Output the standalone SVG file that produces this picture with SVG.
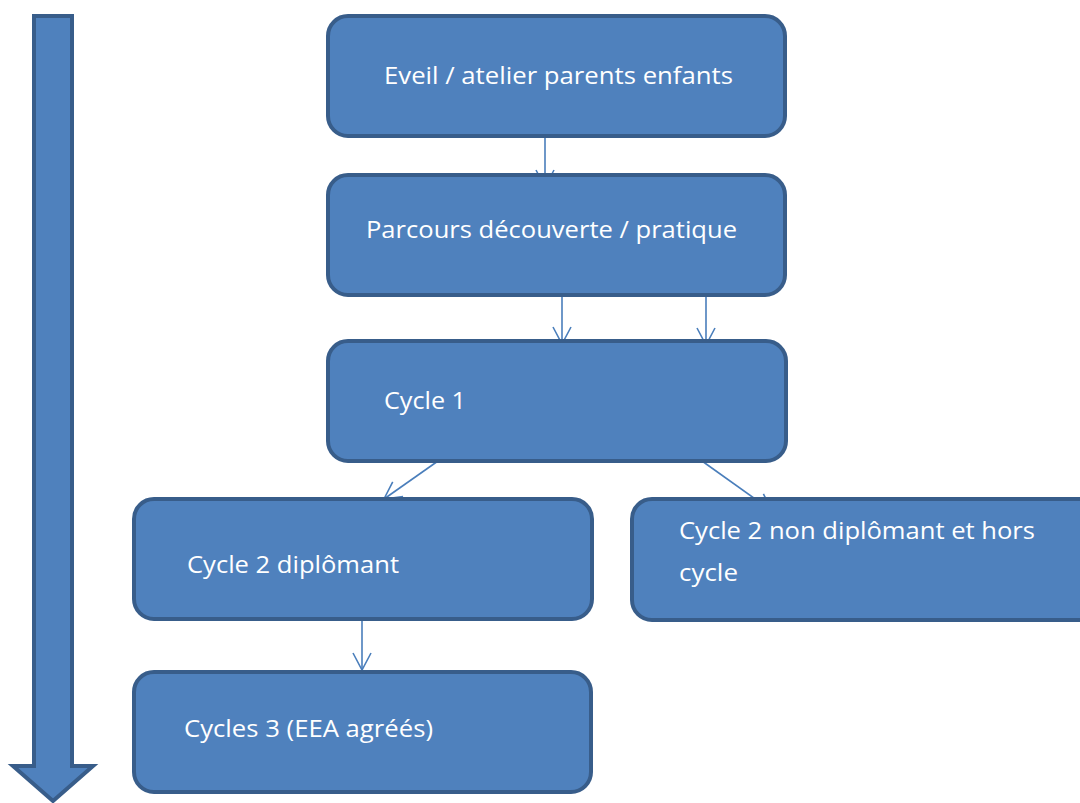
<svg xmlns="http://www.w3.org/2000/svg" width="1080" height="803" viewBox="0 0 1080 803">
<style>
.box{fill:#4f81bd;stroke:#385d8a;stroke-width:4}
.lbl{font-family:"Open Sans","Noto Sans",sans-serif;font-size:24px;fill:#ffffff}
.con{stroke:#4a7ebb;stroke-width:1.6;fill:none}
</style>
<defs>
<marker id="ah" viewBox="0 0 20 20" refX="19" refY="10" markerWidth="20" markerHeight="20" markerUnits="userSpaceOnUse" orient="auto">
<path d="M2,1 L19,10 L2,19" fill="none" stroke="#4a7ebb" stroke-width="1.6"/>
</marker>
</defs>
<rect width="1080" height="803" fill="#ffffff"/>
<g id="timeline">
<path d="M34,16 L72,16 L72,766 L93,766 L53,801 L13,766 L34,766 Z" fill="#4f81bd" stroke="#385d8a" stroke-width="4" stroke-linejoin="miter"/>
</g>
<g id="connectors">
<line class="con" x1="545" y1="137" x2="545" y2="187" marker-end="url(#ah)"/>
<line class="con" x1="562" y1="296" x2="562" y2="344" marker-end="url(#ah)"/>
<line class="con" x1="706" y1="296" x2="706" y2="345" marker-end="url(#ah)"/>
<line class="con" x1="438" y1="461" x2="384" y2="499" marker-end="url(#ah)"/>
<line class="con" x1="702" y1="461" x2="772" y2="511" marker-end="url(#ah)"/>
<line class="con" x1="362" y1="620" x2="362" y2="670" marker-end="url(#ah)"/>
</g>
<g id="n1"><rect class="box" x="328" y="16" width="457" height="120" rx="20"/><text class="lbl" x="384" y="84" textLength="349" lengthAdjust="spacingAndGlyphs">Eveil / atelier parents enfants</text></g>
<g id="n2"><rect class="box" x="328" y="175" width="457" height="120" rx="20"/><text class="lbl" x="366" y="238" textLength="371" lengthAdjust="spacingAndGlyphs">Parcours découverte / pratique</text></g>
<g id="n3"><rect class="box" x="328" y="341" width="458" height="120" rx="20"/><text class="lbl" x="384" y="409" textLength="82" lengthAdjust="spacingAndGlyphs">Cycle 1</text></g>
<g id="n4"><rect class="box" x="134" y="499" width="458" height="120" rx="20"/><text class="lbl" x="187" y="573" textLength="212" lengthAdjust="spacingAndGlyphs">Cycle 2 diplômant</text></g>
<g id="n5"><rect class="box" x="632" y="499" width="468" height="121" rx="20"/><text class="lbl" x="679" y="539" textLength="356" lengthAdjust="spacingAndGlyphs">Cycle 2 non diplômant et hors</text><text class="lbl" x="679" y="581" textLength="59" lengthAdjust="spacingAndGlyphs">cycle</text></g>
<g id="n6"><rect class="box" x="134" y="672" width="457" height="120" rx="20"/><text class="lbl" x="184" y="737" textLength="249" lengthAdjust="spacingAndGlyphs">Cycles 3 (EEA agréés)</text></g>
</svg>
